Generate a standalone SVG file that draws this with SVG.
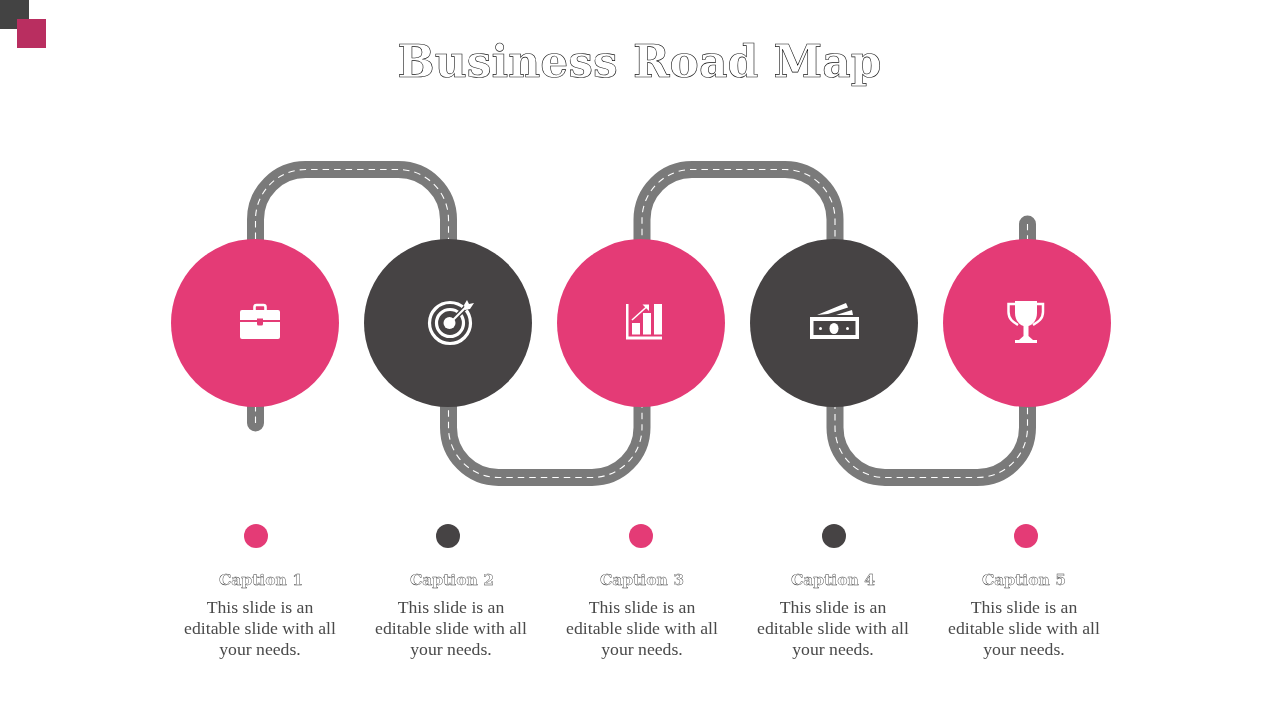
<svg xmlns="http://www.w3.org/2000/svg" width="1280" height="720" viewBox="0 0 1280 720">
<defs><filter id="gray" x="0" y="0" width="1" height="1" filterUnits="objectBoundingBox"><feOffset dx="0" dy="0"/></filter></defs>
<style>
.road{fill:none;stroke:#7a7a7a;stroke-width:17;stroke-linecap:round}
.dash{fill:none;stroke:#fff;stroke-width:1.1;stroke-dasharray:6.5 5}
.pink{fill:#e43b76}
.dark{fill:#464344}
.ic{fill:#fff}
.ils{fill:none;stroke:#fff}
#labels,#titleg{filter:url(#gray)}
text{text-anchor:middle}
.title{font-family:"DejaVu Serif",serif;font-size:44px;font-weight:700;fill:#fff;stroke:#111;stroke-width:.6}
.cap{font-family:"DejaVu Serif",serif;font-size:15.500px;font-weight:700;fill:#fff;stroke:#333;stroke-width:.4}
.body{font-family:"Liberation Serif",serif;font-size:17.700px;fill:#4a4a4a}
</style>
<rect x="0" y="0" width="29" height="29" fill="#434343"/>
<rect x="17" y="19" width="29" height="29" fill="#b92e60"/>
<g id="titleg"><text class="title" x="639.500" y="77">Business Road Map</text></g>
<g id="connectors">
<path id="road" class="road" d="M255.500 423V219.500a50 50 0 0 1 50-50H398.500a50 50 0 0 1 50 50V427.500a50 50 0 0 0 50 50H592a50 50 0 0 0 50-50V219.500a50 50 0 0 1 50-50H785a50 50 0 0 1 50 50V427.500a50 50 0 0 0 50 50H977.500a50 50 0 0 0 50-50V224"/>
<path class="dash" d="M255.500 423V219.500a50 50 0 0 1 50-50H398.500a50 50 0 0 1 50 50V427.500a50 50 0 0 0 50 50H592a50 50 0 0 0 50-50V219.500a50 50 0 0 1 50-50H785a50 50 0 0 1 50 50V427.500a50 50 0 0 0 50 50H977.500a50 50 0 0 0 50-50V224"/>
</g>
<g id="node1">
<circle class="pink" cx="255" cy="323" r="84"/>
<path class="ic" d="M240 312a2 2 0 0 1 2-2H278a2 2 0 0 1 2 2V320H263V318.500H257V320H240ZM240 322H257V324a1.500 1.500 0 0 0 1.500 1.500H261.500a1.500 1.500 0 0 0 1.500-1.500V322H280V337a2 2 0 0 1-2 2H242a2 2 0 0 1-2-2Z"/>
<path class="ils" stroke-width="2.600" d="M254.500 310V307a2 2 0 0 1 2-2H263.500a2 2 0 0 1 2 2V310"/>
</g>
<g id="node2">
<circle class="dark" cx="448" cy="323" r="84"/>
<circle class="ils" stroke-width="3.200" cx="450" cy="323" r="20.500"/>
<circle class="ils" stroke-width="3.200" cx="450" cy="323" r="13.500"/>
<circle class="ic" cx="449.500" cy="323" r="6"/>
<path fill="none" stroke="#464344" stroke-width="5" d="M454 319L466 307"/>
<path class="ils" stroke-width="2.200" d="M450 323L467 306"/>
<path class="ic" d="M464 305L467 300L469 304L474 303L470 309L465 310Z"/>
</g>
<g id="node3">
<circle class="pink" cx="641" cy="323" r="84"/>
<path class="ic" d="M626 304H628.500V336.500H662V339.500H626ZM632 323H640V334.500H632ZM643 313H651V334.500H643ZM654 304H662V334.500H654Z"/>
<path class="ils" stroke-width="1.600" d="M632 320L647 306.500"/>
<path class="ic" d="M642.500 304.500L649 304.500L649 311Z"/>
</g>
<g id="node4">
<circle class="dark" cx="834" cy="323" r="84"/>
<path class="ic" fill-rule="evenodd" d="M810 317H859V339H810ZM813.500 321V335H855.500V321Z"/>
<ellipse class="ic" cx="834" cy="328.500" rx="4.500" ry="5.500"/>
<circle class="ic" cx="820.500" cy="328.500" r="1.500"/>
<circle class="ic" cx="847.500" cy="328.500" r="1.500"/>
<path class="ic" d="M817 315L846 303L848 307.500L828 314ZM836 315L852 310L853 315Z"/>
</g>
<g id="node5">
<circle class="pink" cx="1027" cy="323" r="84"/>
<path class="ic" d="M1015 301H1037V313C1037 321 1032 325 1028.500 326V336L1033 340H1037V343H1015V340H1019L1023.500 336V326C1020 325 1015 321 1015 313Z"/>
<path class="ils" stroke-width="2.500" d="M1015 304H1008.500V312C1008.500 319 1013 322 1018 325M1037 304H1043V312C1043 319 1038 322 1033 325"/>
</g>
<g id="markers">
<circle class="pink" cx="256" cy="536" r="12"/>
<circle class="dark" cx="448" cy="536" r="12"/>
<circle class="pink" cx="641" cy="536" r="12"/>
<circle class="dark" cx="834" cy="536" r="12"/>
<circle class="pink" cx="1026" cy="536" r="12"/>
</g>
<g id="labels">
<text class="cap" x="261" y="585">Caption 1</text>
<text class="cap" x="452" y="585">Caption 2</text>
<text class="cap" x="642" y="585">Caption 3</text>
<text class="cap" x="833" y="585">Caption 4</text>
<text class="cap" x="1024" y="585">Caption 5</text>
<text class="body" x="260" y="613">This slide is an</text><text class="body" x="260" y="634">editable slide with all</text><text class="body" x="260" y="655">your needs.</text>
<text class="body" x="451" y="613">This slide is an</text><text class="body" x="451" y="634">editable slide with all</text><text class="body" x="451" y="655">your needs.</text>
<text class="body" x="642" y="613">This slide is an</text><text class="body" x="642" y="634">editable slide with all</text><text class="body" x="642" y="655">your needs.</text>
<text class="body" x="833" y="613">This slide is an</text><text class="body" x="833" y="634">editable slide with all</text><text class="body" x="833" y="655">your needs.</text>
<text class="body" x="1024" y="613">This slide is an</text><text class="body" x="1024" y="634">editable slide with all</text><text class="body" x="1024" y="655">your needs.</text>
</g>
</svg>
